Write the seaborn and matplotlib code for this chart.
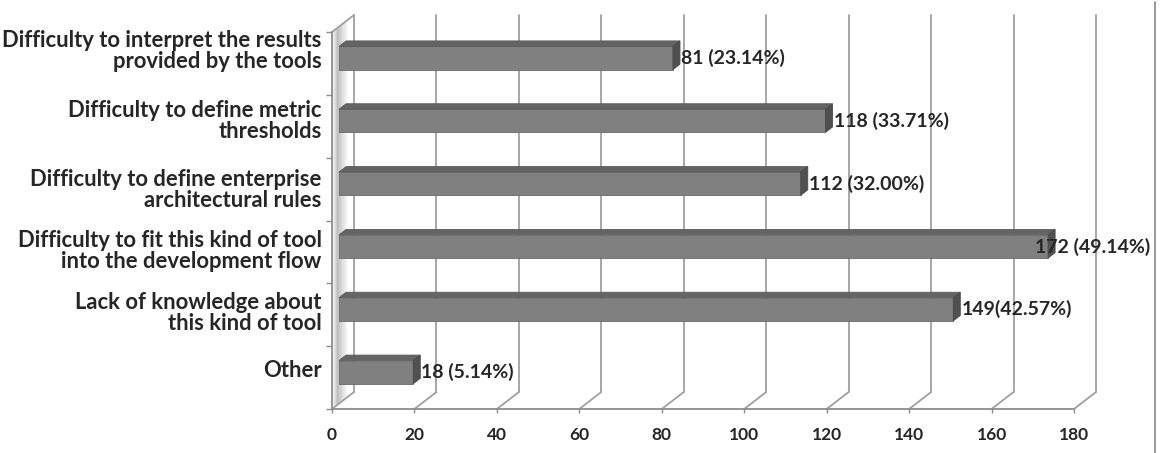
import matplotlib
matplotlib.use("Agg")
import numpy as np
import matplotlib.pyplot as plt
import seaborn as sns
from matplotlib.patches import Polygon
from matplotlib.lines import Line2D
from matplotlib.transforms import IdentityTransform, ScaledTranslation

# data
categories = [
    "Difficulty to interpret the results\nprovided by the tools",
    "Difficulty to define metric\nthresholds",
    "Difficulty to define enterprise\narchitectural rules",
    "Difficulty to fit this kind of tool\ninto the development flow",
    "Lack of knowledge about\nthis kind of tool",
    "Other",
]
counts = [81, 118, 112, 172, 149, 18]
value_labels = ["81 (23.14%)", "118 (33.71%)", "112 (32.00%)",
                "172 (49.14%)", "149(42.57%)", "18 (5.14%)"]
x_ticks = [0, 20, 40, 60, 80, 100, 120, 140, 160, 180]

sns.set_style("white")
plt.rcParams["font.family"] = ["Lato", "DejaVu Sans"]
plt.rcParams["font.weight"] = "bold"

W, H = 1161, 453
fig = plt.figure(figsize=(W / 100, H / 100), dpi=100)
ax = fig.add_axes([332 / W, 1 - 409 / H, 742 / W, 377 / H])

# 3d look: depth of the box in pixels
DX, DY = 22, 17
BF, BB = 0.32, 0.64   # bar front / back depth fraction
front_c, top_c, side_c = "#808080", "#646464", "#505050"

sns.barplot(x=counts, y=categories, orient="h", color=front_c, width=0.37,
            saturation=1, ax=ax, zorder=5)
ax.set_xlim(0, 180)
ax.set_ylim(len(categories) - 0.5, -0.5)
ax.set_autoscale_on(False)
for s in ax.spines.values():
    s.set_visible(False)
ax.set_xlabel("")
ax.set_ylabel("")

shift = ScaledTranslation(DX * BF / 100, DY * BF / 100, fig.dpi_scale_trans)
for p in ax.patches:
    p.set_transform(ax.transData + shift)
    p.set_edgecolor("#6a6a6a")
    p.set_linewidth(0.6)

fig.canvas.draw()
T = ax.transData.transform
ident = IdentityTransform()
line_c = "#a0a0a0"


def add_poly(pts, fc, ec="none", lw=0, z=4):
    ax.add_patch(Polygon(pts, closed=True, facecolor=fc, edgecolor=ec, linewidth=lw,
                         transform=ident, zorder=z, clip_on=False))


def add_line(xs, ys, c=line_c, lw=1.3, z=2):
    ax.add_line(Line2D(xs, ys, color=c, linewidth=lw, transform=ident, zorder=z,
                       clip_on=False))


bot = len(categories) - 0.5
top = -0.5

# left wall gradient
x0b, y0b = T((0, bot))
x0t, y0t = T((0, top))
ts = np.linspace(0, 1, 45)
shade = np.interp(ts, [0, 0.12, 0.25, 0.45, 0.72, 1], [0.97, 0.85, 0.66, 0.82, 1, 1])
for t1, t2, g in zip(ts[:-1], ts[1:], shade[:-1]):
    add_poly([(x0b + DX * t1, y0b + DY * t1), (x0b + DX * t2, y0b + DY * t2),
              (x0t + DX * t2, y0t + DY * t2), (x0t + DX * t1, y0t + DY * t1)],
             fc=(g, g, g), z=0.5)

# back wall gridlines + floor diagonals
for v in x_ticks:
    xb, yb = T((v, bot))
    xt, yt = T((v, top))
    add_line([xb + DX, xt + DX], [yb + DY, yt + DY])
    add_line([xb, xb + DX], [yb, yb + DY])
# left wall edges
add_line([x0t, x0t + DX], [y0t, y0t + DY])
add_line([x0b, x0t], [y0b, y0t], c="#8c8c8c")
x1b, _ = T((180, bot))
add_line([x0b, x1b], [y0b, y0b], c="#8c8c8c")

# bar tops and sides
for i, v in enumerate(counts):
    xa, ya = T((0, i + 0.185))
    xe, ye = T((v, i - 0.185))
    fx, fy = DX * BF, DY * BF
    bx, by = DX * BB, DY * BB
    add_poly([(xa + fx, ye + fy), (xe + fx, ye + fy), (xe + bx, ye + by), (xa + bx, ye + by)],
             fc=top_c, ec="#5a5a5a", lw=0.6, z=6)
    add_poly([(xe + fx, ya + fy), (xe + fx, ye + fy), (xe + bx, ye + by), (xe + bx, ya + by)],
             fc=side_c, ec="#4a4a4a", lw=0.6, z=6)

# value labels
rend = fig.canvas.get_renderer()
for i, (v, lab) in enumerate(zip(counts, value_labels)):
    xe, yc = T((v, i))
    tx = fig.text(xe + DX * BB + 1, yc + DY * BF, lab, transform=ident,
                  ha="left", va="center", fontsize=14, fontweight="bold", zorder=7)
    bb = tx.get_window_extent(rend)
    if bb.x1 > 1150:
        tx.set_x(1150)
        tx.set_ha("right")

# ticks
ax.set_xticks(x_ticks)
ax.set_xticklabels([str(t) for t in x_ticks], fontsize=12.5, fontweight="bold")
ax.tick_params(axis="x", length=3, width=1, color="#8c8c8c", pad=10, bottom=True)
ax.set_yticks(np.arange(len(categories)))
ax.set_yticklabels(categories, fontsize=15.8, fontweight="bold", linespacing=1.0)
ax.set_yticks(np.arange(len(categories) + 1) - 0.5, minor=True)
ax.tick_params(axis="y", which="major", length=0, pad=7.5)
ax.tick_params(axis="y", which="minor", length=4.5, width=1, color="#8c8c8c", left=True)
label_nudge = [14, 7, 1, 3, 4, 9]   # px, Excel puts these slightly above centre
for t, dy in zip(ax.get_yticklabels(), label_nudge):
    t.set_ha("right")
    t.set_transform(t.get_transform() + ScaledTranslation(0, dy / 100, fig.dpi_scale_trans))

# outer border on the right
fig.add_artist(Line2D([1155 / W, 1155 / W], [0, 1 - 2 / H], color="#868686", linewidth=1.2))

fig.savefig("out.png", dpi=100)
